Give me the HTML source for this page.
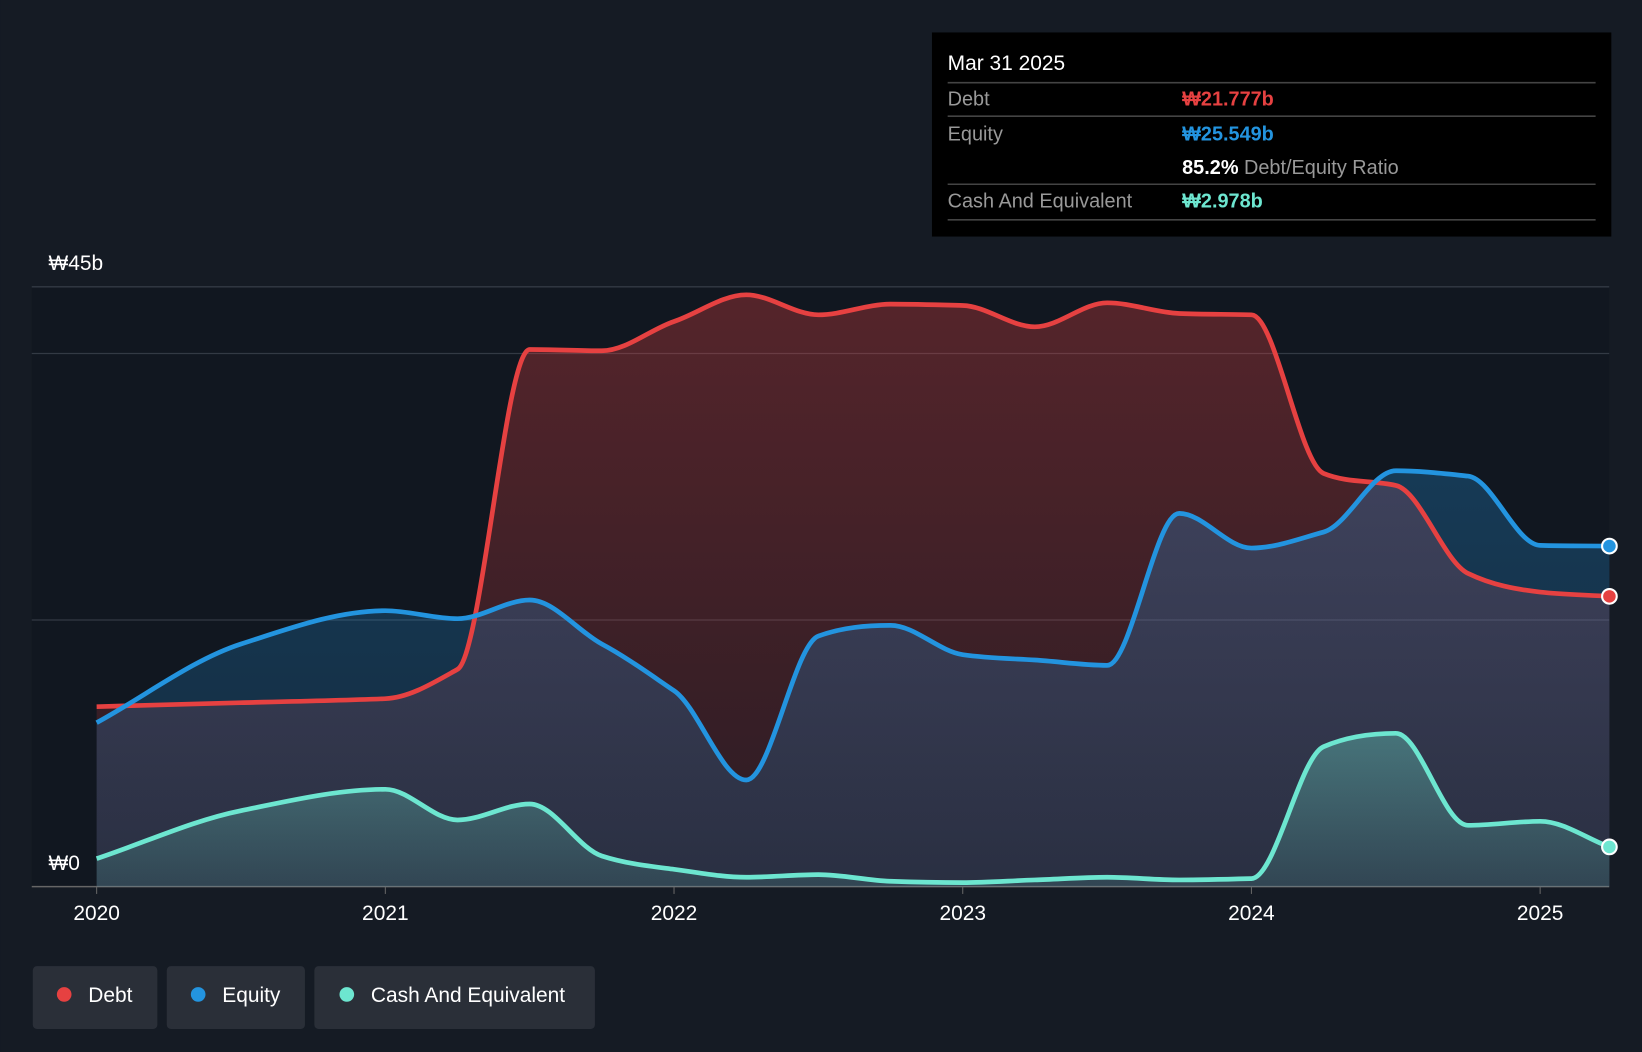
<!DOCTYPE html>
<html><head><meta charset="utf-8"><style>
html,body{margin:0;padding:0;background:#151b24;}
svg{display:block;font-family:"Liberation Sans","Noto Sans CJK KR",sans-serif;}
</style></head><body>
<svg id="chart" width="1642" height="1052" viewBox="0 0 1568 1005" xmlns="http://www.w3.org/2000/svg">
<rect x="0" y="0" width="1568" height="1005" fill="#151b24"/>
<rect x="30" y="274" width="1507" height="573" fill="#111720"/>
<g id="grid"></g>
<g id="areas"></g>
<g id="lines"></g>
<g id="xticks"></g>
<text x="46" y="258" fill="#fff" font-size="20">₩45b</text>
<text x="46" y="831" fill="#fff" font-size="20">₩0</text>
<g>
<rect x="890" y="31" width="649" height="195" fill="#000"/>
<text x="905" y="67" fill="#fff" font-size="20">Mar 31 2025</text>
<line x1="905" y1="79" x2="1524" y2="79" stroke="#444" stroke-width="1.5"/>
<text x="905" y="101" fill="#999" font-size="19">Debt</text>
<text x="1129" y="101" fill="#e64141" font-size="19" font-weight="bold">₩21.777b</text>
<line x1="905" y1="111" x2="1524" y2="111" stroke="#444" stroke-width="1.5"/>
<text x="905" y="134" fill="#999" font-size="19">Equity</text>
<text x="1129" y="134" fill="#2394df" font-size="19" font-weight="bold">₩25.549b</text>
<text x="1129" y="166" fill="#fff" font-size="19" font-weight="bold">85.2% <tspan fill="#999" font-weight="normal">Debt/Equity Ratio</tspan></text>
<line x1="905" y1="176" x2="1524" y2="176" stroke="#444" stroke-width="1.5"/>
<text x="905" y="198" fill="#999" font-size="19">Cash And Equivalent</text>
<text x="1129" y="198" fill="#6de6d0" font-size="19" font-weight="bold">₩2.978b</text>
<line x1="905" y1="210" x2="1524" y2="210" stroke="#444" stroke-width="1.5"/>
</g>
<g>
<g><rect x="31" y="923" width="119" height="60" rx="4" fill="#2a2f38"/><circle cx="61" cy="950" r="7" fill="#e64141"/><text x="84" y="957" fill="#fff" font-size="20">Debt</text></g>
<g><rect x="159" y="923" width="132" height="60" rx="4" fill="#2a2f38"/><circle cx="189" cy="950" r="7" fill="#2394df"/><text x="212" y="957" fill="#fff" font-size="20">Equity</text></g>
<g><rect x="300" y="923" width="268" height="60" rx="4" fill="#2a2f38"/><circle cx="331" cy="950" r="7" fill="#6de6d0"/><text x="354" y="957" fill="#fff" font-size="20">Cash And Equivalent</text></g>
</g>
</svg>
<script>
const times=[2020,2020.5,2021,2021.25,2021.5,2021.75,2022,2022.25,2022.5,2022.75,2023,2023.25,2023.5,2023.75,2024,2024.25,2024.5,2024.75,2025,2025.24];
const debt=[13.5,13.8,14.1,16.3,40.3,40.2,42.4,44.4,42.9,43.7,43.6,42.0,43.8,43.0,42.9,31.0,30.1,23.5,22.1,21.777];
const equity=[12.3,18.2,20.7,20.1,21.5,18.2,14.7,8.0,18.8,19.6,17.4,17.0,16.6,28.0,25.4,26.6,31.2,30.8,25.6,25.549];
const cash=[2.1,5.7,7.3,5.0,6.2,2.3,1.3,0.7,0.9,0.4,0.3,0.5,0.7,0.5,0.6,10.5,11.5,4.6,4.9,2.978];
const yTicks=[0,20,40,45];
const xTickYears=[2020,2021,2022,2023,2024,2025];
const NS="http://www.w3.org/2000/svg";
const xs=t=>92+(t-2020)*275.8;
const ys=v=>847-v*(573/45);
function el(tag,attrs,parent){const e=document.createElementNS(NS,tag);for(const k in attrs)e.setAttribute(k,attrs[k]);parent.appendChild(e);return e;}
function monotone(px,py){
  const n=px.length,d=[],m=[];
  for(let i=0;i<n-1;i++)d.push((py[i+1]-py[i])/(px[i+1]-px[i]));
  m[0]=d[0];m[n-1]=d[n-2];
  for(let i=1;i<n-1;i++){if(d[i-1]*d[i]<=0)m[i]=0;else{m[i]=3*(d[i-1]+d[i])/(2*d[i]/d[i-1]+d[i-1]/d[i]+4)||0;}}
  let s=`M${px[0]},${py[0]}`;
  for(let i=0;i<n-1;i++){const h=(px[i+1]-px[i])/3;s+=` C${px[i]+h},${py[i]+m[i]*h} ${px[i+1]-h},${py[i+1]-m[i+1]*h} ${px[i+1]},${py[i+1]}`;}
  return s;
}
const grid=document.getElementById('grid');
yTicks.forEach(v=>{
  const l=el('line',{x1:30,x2:1537,y1:ys(v),y2:ys(v),stroke:v===0?'#666':'#333a44','stroke-width':v===0?1.5:1.2},grid);
  
  
});
const xt=document.getElementById('xticks');
xTickYears.forEach(y=>{
  el('line',{x1:xs(y),x2:xs(y),y1:847,y2:854,stroke:'#666'},xt);
  const t=el('text',{x:xs(y),y:879,fill:'#fff','font-size':20,'text-anchor':'middle'},xt);
  t.textContent=y;
  
  
});
const defs=el('defs',{},document.getElementById('chart'));
function grad(id,c,o1,o2){const g=el('linearGradient',{id,x1:0,y1:0,x2:0,y2:1},defs);el('stop',{offset:0,'stop-color':c,'stop-opacity':o1},g);el('stop',{offset:1,'stop-color':c,'stop-opacity':o2},g);}
grad('gd','#e64141',0.32,0.12);grad('ge','#2394df',0.28,0.16);grad('gc','#6de6d0',0.35,0.12);
const series=[['debt',debt,'#e64141','gd'],['equity',equity,'#2394df','ge'],['cash',cash,'#6de6d0','gc']];
const px=times.map(xs),A=document.getElementById('areas'),L=document.getElementById('lines');
series.forEach(([name,vals,col,g])=>{
  const py=vals.map(ys),p=monotone(px,py);
  const a=el('path',{d:p+` L${px[px.length-1]},847 L${px[0]},847 Z`,fill:`url(#${g})`},A);
  
  
  const l=el('path',{d:p,fill:'none',stroke:col,'stroke-width':4.5,'stroke-linejoin':'round'},L);
  
  
  const c=el('circle',{cx:px[px.length-1],cy:py[py.length-1],r:7,fill:col,stroke:'#fff','stroke-width':2},L);
  
  
});
</script>
</body></html>
